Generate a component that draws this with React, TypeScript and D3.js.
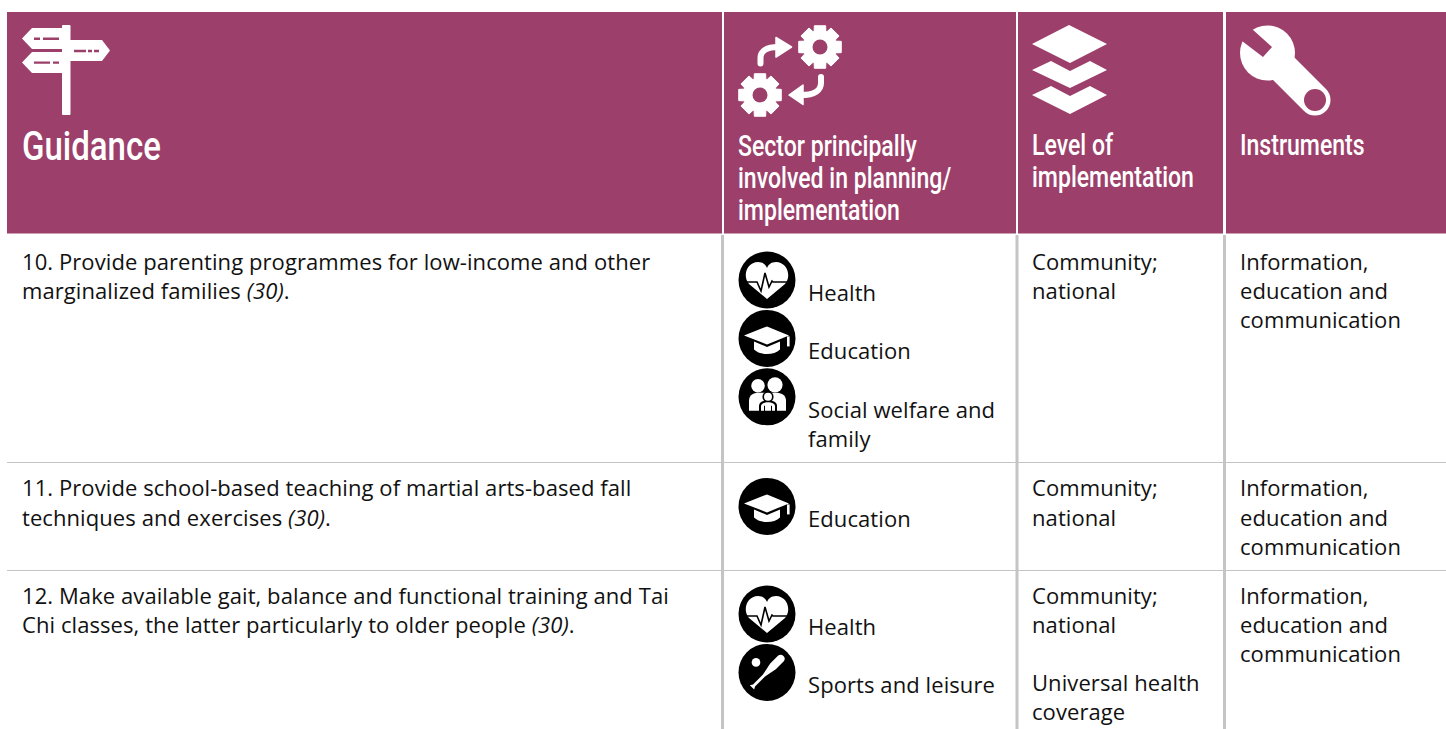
import React from 'react';
import { path, range, scaleLinear, scaleOrdinal } from 'd3';

const width = 1446;
const height = 729;

const headerFill = '#9c406b';
const ruleColor = '#c4c4c4';
const bodyFont = '"Open Sans", sans-serif';
const headFont = 'Roboto, sans-serif';

const columns = ['guidance', 'sector', 'level', 'instruments'];
const rows = ['10', '11', '12'];

const guidanceText = [
  [['10. Provide parenting programmes for low-income and other', ''], ['marginalized families ', '(30)', '.']],
  [['11. Provide school-based teaching of martial arts-based fall', ''], ['techniques and exercises ', '(30)', '.']],
  [['12. Make available gait, balance and functional training and Tai', ''], ['Chi classes, the latter particularly to older people ', '(30)', '.']],
];
const sectorText = [
  [['heart', ['Health']], ['cap', ['Education']], ['family', ['Social welfare and', 'family']]],
  [['cap', ['Education']]],
  [['heart', ['Health']], ['bat', ['Sports and leisure']]],
];
const levelText = [
  ['Community;', 'national'],
  ['Community;', 'national'],
  ['Community;', 'national', '', 'Universal health', 'coverage'],
];
const instrumentText = [
  ['Information,', 'education and', 'communication'],
  ['Information,', 'education and', 'communication'],
  ['Information,', 'education and', 'communication'],
];
const headerText = [
  ['Guidance'],
  ['Sector principally', 'involved in planning/', 'implementation'],
  ['Level of', 'implementation'],
  ['Instruments'],
];

// layout scales
const colLeft = scaleOrdinal<string, number>().domain(columns).range([7, 724, 1018, 1226]);
const colRight = scaleOrdinal<string, number>().domain(columns).range([722, 1016, 1223, 1446]);
const colText = scaleOrdinal<string, number>().domain(columns).range([22, 738, 1032, 1240]);
const rowBase = scaleOrdinal<string, number>().domain(rows).range([270, 496.4, 604]);
const lineY = scaleLinear().domain([0, 1]).range([0, 29.1]);
const itemY = scaleLinear().domain([0, 1]).range([31, 89.4]);

const gearPath = (cx: number, cy: number, r: number) => {
  const p = path();
  const teeth = 8;
  const inner = r * 0.76;
  range(teeth).forEach((i) => {
    const a = (i / teeth) * Math.PI * 2 - Math.PI / 2;
    const w = 0.26;
    const pts: [number, number][] = [
      [inner, a - 0.36],
      [r, a - w],
      [r, a + w],
      [inner, a + 0.36],
    ];
    pts.forEach(([rad, ang], j) => {
      const x = cx + rad * Math.cos(ang);
      const y = cy + rad * Math.sin(ang);
      if (i === 0 && j === 0) p.moveTo(x, y);
      else p.lineTo(x, y);
    });
  });
  p.closePath();
  return p.toString();
};

const SignIcon = () => (
  <g>
    <rect x={62} y={25} width={8.5} height={90} rx={1} fill="#fff" />
    <path d="M22,38.5 L32,28 H62 V49 H32 Z" fill="#fff" />
    <path d="M70,40 H102 L110,50.5 L102,61 H70 Z" fill="#fff" />
    <path d="M22,62.5 L32,52 H62 V73 H32 Z" fill="#fff" />
    <g stroke={headerFill} strokeWidth={2.4}>
      <path d="M34,38.8 H40 M43,38.8 H59" />
      <path d="M74,51 H86 M88,51 H92 M94,51 H99" />
      <path d="M34,62.6 H50 M53,62.6 H59" />
    </g>
  </g>
);

const SectorIcon = () => (
  <g>
    <path d={gearPath(820, 47, 22)} fill="#fff" stroke="#fff" strokeWidth={1} strokeLinejoin="round" />
    <circle cx={820} cy={47} r={7.5} fill={headerFill} />
    <path d={gearPath(760, 95, 22)} fill="#fff" stroke="#fff" strokeWidth={1} strokeLinejoin="round" />
    <circle cx={760} cy={95} r={7.5} fill={headerFill} />
    <path d="M760.5,63.5 V58 C760.5,51 767,47 778,47" fill="none" stroke="#fff" strokeWidth={6} strokeLinecap="round" />
    <path d="M776,37.5 L791.5,47 L776,57 Z" fill="#fff" stroke="#fff" strokeWidth={1.5} strokeLinejoin="round" />
    <path d="M821,77 V83 C821,90 815,95 801,95" fill="none" stroke="#fff" strokeWidth={6} strokeLinecap="round" />
    <path d="M803,85 L789,95 L803,104.5 Z" fill="#fff" stroke="#fff" strokeWidth={1.5} strokeLinejoin="round" />
  </g>
);

const LayersIcon = () => (
  <g fill="#fff">
    <path d="M1032,44 L1069,25 L1107,44 L1070,63 Z" />
    <path d="M1032,70 L1051,61 L1070,71 L1090,61 L1107,70 L1070,88 Z" />
    <path d="M1032,95 L1051,86 L1070,96 L1090,86 L1107,95 L1070,114 Z" />
  </g>
);

const WrenchIcon = () => (
  <g>
    <circle cx={1267.5} cy={53} r={27.5} fill="#fff" />
    <path d="M1252,29 L1272,47 L1263,57 L1242,41 L1230,30 L1245,18 Z" fill={headerFill} />
    <path d="M1284,69 L1315,100" stroke="#fff" strokeWidth={31} strokeLinecap="round" />
    <circle cx={1315} cy={100} r={11} fill={headerFill} />
  </g>
);

const HeartBadge = () => (
  <g>
    <path
      d="M0,19 L-18,4 C-25,-4 -20,-18 -9,-18 C-4,-18 -1,-15 0,-12 C1,-15 4,-18 9,-18 C20,-18 25,-4 18,4 Z"
      fill="#fff"
    />
    <path d="M-22,2 H-10 L-6,11 L-2,-7 L2,7 L5,1 L6,2 H22" fill="none" stroke="#000" strokeWidth={1.6} />
  </g>
);

const CapBadge = () => (
  <g fill="#fff">
    <path d="M-23,-3 L0,-12 L22,-3 L0,6 Z" />
    <path d="M-13,3 L0,8.5 L13,3 V11 C7,17 -7,17 -13,11 Z" />
    <rect x={20} y={-2} width={2.6} height={10} />
  </g>
);

const FamilyBadge = () => (
  <g>
    <circle cx={-9} cy={-11} r={6.8} fill="#fff" />
    <circle cx={8} cy={-12} r={7.6} fill="#fff" />
    <path d="M-18,14 V4 C-18,-2 -13,-4 -9,-4 H9 C14,-4 19,-2 19,4 V14 Z" fill="#fff" />
    <path d="M0.5,-3 V14" stroke="#000" strokeWidth={1.2} />
    <circle cx={1} cy={0} r={5.6} fill="#000" />
    <path d="M-8,15 V9 C-8,5 -3,3.5 1,3.5 C5,3.5 10,5 10,9 V15 Z" fill="#000" />
    <circle cx={1} cy={0} r={4} fill="#fff" />
    <path d="M-6,14 V9.5 C-6,6.5 -2,5.5 1,5.5 C4,5.5 8,6.5 8,9.5 V14 H5 V9 H4 V14 H-2 V9 H-3 V14 Z" fill="#fff" />
  </g>
);

const BatBadge = () => (
  <g fill="#fff">
    <circle cx={-11} cy={-10} r={4.3} />
    <path d="M-17.2,12.8 L-14,12 L-4,2 L3.2,-8.8 L11.2,-16.8 A4,4 0 0 1 16.8,-11.2 L8.8,-3.2 L-2,4 L-12,14 L-12.8,17.2 Z" />
  </g>
);

const badges: Record<string, () => React.ReactElement> = {
  heart: HeartBadge,
  cap: CapBadge,
  family: FamilyBadge,
  bat: BatBadge,
};

const App = () => {
  const body = { fontFamily: bodyFont, fontSize: 22, fill: '#111', letterSpacing: 0.08 };
  const headSizes = [41.5, 29, 29, 29];
  const headBase = [160, 156, 155, 155];
  const headStep = [0, 32.2, 32, 0];
  const squeeze = 0.795;

  return (
    <svg
      width={width}
      height={height}
      style={{ position: 'absolute', left: 0, top: 0, background: '#fff' }}
    >
      {columns.map((c) => (
        <rect key={c} x={colLeft(c)} y={12} width={colRight(c) - colLeft(c)} height={221.5} fill={headerFill} />
      ))}
      {columns.map((c, i) =>
        headerText[i].map((line, j) => (
          <text
            key={c + j}
            transform={`translate(${colText(c)},${headBase[i] + j * headStep[i]}) scale(${squeeze},1)`}
            fill="#fff"
            fontFamily={headFont}
            fontSize={headSizes[i]}
            fontWeight={500}
          >
            {line}
          </text>
        ))
      )}
      <SignIcon />
      <SectorIcon />
      <LayersIcon />
      <WrenchIcon />

      {/* rules */}
      <line x1={7} x2={1446} y1={462.5} y2={462.5} stroke={ruleColor} strokeWidth={1.2} />
      <line x1={7} x2={1446} y1={570.5} y2={570.5} stroke={ruleColor} strokeWidth={1.2} />
      {[722.5, 1017, 1224.5].map((x) => (
        <line key={x} x1={x} x2={x} y1={235} y2={height} stroke={ruleColor} strokeWidth={3} />
      ))}

      {rows.map((r, ri) => (
        <g key={r}>
          {guidanceText[ri].map((line, li) => (
            <text key={li} x={colText('guidance')} y={rowBase(r) + lineY(li)} {...body}>
              {line[0]}
              {line[1] && <tspan fontStyle="italic">{line[1]}</tspan>}
              {line[2]}
            </text>
          ))}
          {sectorText[ri].map(([icon, lines], k) => {
            const Badge = badges[icon as string];
            const base = rowBase(r) + itemY(k);
            return (
              <g key={k}>
                <g transform={`translate(767,${base - 21})`}>
                  <circle r={28.5} fill="#000" />
                  <Badge />
                </g>
                {(lines as string[]).map((t, li) => (
                  <text key={li} x={808} y={base + lineY(li)} {...body}>
                    {t}
                  </text>
                ))}
              </g>
            );
          })}
          {levelText[ri].map((t, li) => (
            <text key={li} x={colText('level')} y={rowBase(r) + lineY(li)} {...body}>
              {t}
            </text>
          ))}
          {instrumentText[ri].map((t, li) => (
            <text key={li} x={colText('instruments')} y={rowBase(r) + lineY(li)} {...body}>
              {t}
            </text>
          ))}
        </g>
      ))}
    </svg>
  );
};

export default App;
